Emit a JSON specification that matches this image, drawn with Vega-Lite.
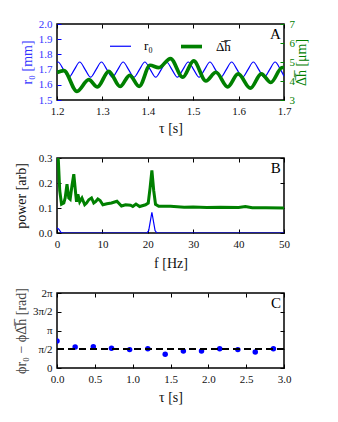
{
  "$schema": "https://vega.github.io/schema/vega-lite/v6.json",
  "padding": {"left": 13, "top": 17, "right": 5, "bottom": 5},
  "spacing": 15,
  "config": {
    "font": "Liberation Serif",
    "view": {"stroke": "black", "strokeWidth": 1.5},
    "axis": {"domain": false, "grid": false, "tickSize": -4, "tickColor": "black", "labelFontSize": 11, "labelColor": "#111", "titleFontSize": 14, "titleFontWeight": "normal", "titleColor": "#111", "labelPadding": 9, "labelFlush": false, "labelOverlap": false}
  },
  "datasets": {
    "aR": [
      {"t": 1.2, "v": 1.748, "s": "r₀"}, {"t": 1.2023, "v": 1.75, "s": "r₀"}, {"t": 1.2143, "v": 1.70, "s": "r₀"}, {"t": 1.2262, "v": 1.65, "s": "r₀"},
      {"t": 1.2382, "v": 1.70, "s": "r₀"}, {"t": 1.2501, "v": 1.75, "s": "r₀"}, {"t": 1.2621, "v": 1.70, "s": "r₀"}, {"t": 1.2740, "v": 1.65, "s": "r₀"},
      {"t": 1.2860, "v": 1.70, "s": "r₀"}, {"t": 1.2979, "v": 1.75, "s": "r₀"}, {"t": 1.3099, "v": 1.70, "s": "r₀"}, {"t": 1.3218, "v": 1.65, "s": "r₀"},
      {"t": 1.3338, "v": 1.70, "s": "r₀"}, {"t": 1.3457, "v": 1.75, "s": "r₀"}, {"t": 1.3577, "v": 1.70, "s": "r₀"}, {"t": 1.3696, "v": 1.65, "s": "r₀"},
      {"t": 1.3816, "v": 1.70, "s": "r₀"}, {"t": 1.3935, "v": 1.75, "s": "r₀"}, {"t": 1.4055, "v": 1.70, "s": "r₀"}, {"t": 1.4174, "v": 1.65, "s": "r₀"},
      {"t": 1.4294, "v": 1.70, "s": "r₀"}, {"t": 1.4413, "v": 1.75, "s": "r₀"}, {"t": 1.4533, "v": 1.70, "s": "r₀"}, {"t": 1.4652, "v": 1.65, "s": "r₀"},
      {"t": 1.4772, "v": 1.70, "s": "r₀"}, {"t": 1.4891, "v": 1.75, "s": "r₀"}, {"t": 1.5011, "v": 1.70, "s": "r₀"}, {"t": 1.5130, "v": 1.65, "s": "r₀"},
      {"t": 1.5250, "v": 1.70, "s": "r₀"}, {"t": 1.5369, "v": 1.75, "s": "r₀"}, {"t": 1.5489, "v": 1.70, "s": "r₀"}, {"t": 1.5608, "v": 1.65, "s": "r₀"},
      {"t": 1.5728, "v": 1.70, "s": "r₀"}, {"t": 1.5847, "v": 1.75, "s": "r₀"}, {"t": 1.5967, "v": 1.70, "s": "r₀"}, {"t": 1.6086, "v": 1.65, "s": "r₀"},
      {"t": 1.6206, "v": 1.70, "s": "r₀"}, {"t": 1.6325, "v": 1.75, "s": "r₀"}, {"t": 1.6445, "v": 1.70, "s": "r₀"}, {"t": 1.6564, "v": 1.65, "s": "r₀"},
      {"t": 1.6684, "v": 1.70, "s": "r₀"}, {"t": 1.6803, "v": 1.75, "s": "r₀"}, {"t": 1.6923, "v": 1.70, "s": "r₀"}, {"t": 1.7, "v": 1.657, "s": "r₀"}
    ],
    "aH": [
      {"t": 1.2, "v": 4.44, "s": "Δ̅h̅"}, {"t": 1.215, "v": 4.55, "s": "Δ̅h̅"}, {"t": 1.244, "v": 3.45, "s": "Δ̅h̅"}, {"t": 1.27, "v": 4.07, "s": "Δ̅h̅"},
      {"t": 1.289, "v": 3.69, "s": "Δ̅h̅"}, {"t": 1.314, "v": 4.51, "s": "Δ̅h̅"}, {"t": 1.339, "v": 3.71, "s": "Δ̅h̅"}, {"t": 1.36, "v": 4.3, "s": "Δ̅h̅"},
      {"t": 1.381, "v": 3.72, "s": "Δ̅h̅"}, {"t": 1.405, "v": 4.83, "s": "Δ̅h̅"}, {"t": 1.424, "v": 4.7, "s": "Δ̅h̅"}, {"t": 1.45, "v": 5.18, "s": "Δ̅h̅"},
      {"t": 1.477, "v": 4.2, "s": "Δ̅h̅"}, {"t": 1.501, "v": 5.06, "s": "Δ̅h̅"}, {"t": 1.528, "v": 4.0, "s": "Δ̅h̅"}, {"t": 1.55, "v": 4.46, "s": "Δ̅h̅"},
      {"t": 1.576, "v": 3.69, "s": "Δ̅h̅"}, {"t": 1.599, "v": 4.37, "s": "Δ̅h̅"}, {"t": 1.626, "v": 3.62, "s": "Δ̅h̅"}, {"t": 1.65, "v": 4.38, "s": "Δ̅h̅"},
      {"t": 1.671, "v": 3.92, "s": "Δ̅h̅"}, {"t": 1.696, "v": 4.71, "s": "Δ̅h̅"}, {"t": 1.7, "v": 4.68, "s": "Δ̅h̅"}
    ],
    "bG": [
      {"f": 0, "p": 0.34}, {"f": 0.3, "p": 0.29}, {"f": 0.6, "p": 0.17}, {"f": 1.0, "p": 0.115}, {"f": 1.5, "p": 0.12}, {"f": 1.8, "p": 0.14},
      {"f": 2.2, "p": 0.195}, {"f": 2.6, "p": 0.14}, {"f": 2.9, "p": 0.135}, {"f": 3.3, "p": 0.19}, {"f": 3.7, "p": 0.235}, {"f": 4.1, "p": 0.16},
      {"f": 4.3, "p": 0.125}, {"f": 4.6, "p": 0.155}, {"f": 5.0, "p": 0.125}, {"f": 5.5, "p": 0.14}, {"f": 6.1, "p": 0.113}, {"f": 6.5, "p": 0.12},
      {"f": 7.0, "p": 0.133}, {"f": 7.6, "p": 0.14}, {"f": 8.1, "p": 0.12}, {"f": 8.5, "p": 0.125}, {"f": 9.0, "p": 0.136}, {"f": 9.5, "p": 0.13},
      {"f": 10.1, "p": 0.113}, {"f": 11.0, "p": 0.117}, {"f": 12.0, "p": 0.12}, {"f": 13.2, "p": 0.127}, {"f": 14.2, "p": 0.108}, {"f": 15.1, "p": 0.113},
      {"f": 16.2, "p": 0.111}, {"f": 16.7, "p": 0.106}, {"f": 17.4, "p": 0.116}, {"f": 18.2, "p": 0.106}, {"f": 19.5, "p": 0.113}, {"f": 20.1, "p": 0.12},
      {"f": 20.5, "p": 0.18}, {"f": 20.9, "p": 0.25}, {"f": 21.3, "p": 0.17}, {"f": 21.7, "p": 0.115}, {"f": 22.4, "p": 0.107}, {"f": 25, "p": 0.107},
      {"f": 28, "p": 0.103}, {"f": 30, "p": 0.104}, {"f": 33, "p": 0.102}, {"f": 36, "p": 0.103}, {"f": 40, "p": 0.102}, {"f": 41.5, "p": 0.106},
      {"f": 43, "p": 0.101}, {"f": 46, "p": 0.101}, {"f": 50, "p": 0.1}
    ],
    "bB": [
      {"f": 0, "p": 0.02}, {"f": 0.4, "p": 0.015}, {"f": 0.9, "p": 0.002}, {"f": 1.5, "p": 0.0}, {"f": 19.8, "p": 0.0}, {"f": 20.2, "p": 0.01},
      {"f": 20.9, "p": 0.083}, {"f": 21.6, "p": 0.01}, {"f": 22, "p": 0.0}, {"f": 50, "p": 0.0}
    ],
    "c": [
      {"t": 0.0, "d": 2.26}, {"t": 0.24, "d": 1.76}, {"t": 0.48, "d": 1.79}, {"t": 0.72, "d": 1.65}, {"t": 0.96, "d": 1.54},
      {"t": 1.2, "d": 1.62}, {"t": 1.43, "d": 1.15}, {"t": 1.67, "d": 1.42}, {"t": 1.91, "d": 1.42}, {"t": 2.15, "d": 1.62},
      {"t": 2.39, "d": 1.54}, {"t": 2.62, "d": 1.34}, {"t": 2.86, "d": 1.62}
    ],
    "labA": [{"t": 1.693, "v": 1.9, "txt": "A"}],
    "labB": [{"f": 49.3, "p": 0.24, "txt": "B"}],
    "labC": [{"t": 2.96, "d": 5.03, "txt": "C"}]
  },
  "vconcat": [
    {
      "width": 227, "height": 76,
      "resolve": {"scale": {"y": "independent"}, "axis": {"x": "independent"}},
      "layer": [
        {
          "layer": [
            {
              "data": {"name": "aR"},
              "mark": {"type": "line", "interpolate": "monotone", "clip": true},
              "encoding": {
                "x": {"field": "t", "type": "quantitative", "scale": {"domain": [1.2, 1.7], "nice": false}, "axis": {"values": [1.2, 1.3, 1.4, 1.5, 1.6, 1.7], "format": ".1f", "title": "τ [s]", "titlePadding": 5}},
                "y": {"field": "v", "type": "quantitative", "scale": {"domain": [1.5, 2.0], "nice": false, "zero": false}, "axis": {"values": [1.5, 1.6, 1.7, 1.8, 1.9, 2.0], "format": ".1f", "title": "r₀ [mm]", "labelColor": "#3333ff", "titleColor": "#3333ff", "tickColor": "#0000ff"}},
                "color": {"field": "s", "type": "nominal", "scale": {"domain": ["r₀", "Δ̅h̅"], "range": ["#0000ff", "#008000"]}, "legend": {"orient": "none", "legendX": 52, "legendY": 10, "direction": "horizontal", "title": null, "symbolType": "stroke", "symbolSize": 441, "labelFontSize": 13, "labelOffset": 12, "columnPadding": 20, "padding": 0}},
                "strokeWidth": {"field": "s", "type": "nominal", "scale": {"domain": ["r₀", "Δ̅h̅"], "range": [1.2, 3.7]}, "legend": {"orient": "none", "legendX": 52, "legendY": 10, "direction": "horizontal", "title": null, "symbolType": "stroke", "symbolSize": 441, "labelFontSize": 13, "labelOffset": 12, "columnPadding": 20, "padding": 0}}
              }
            },
            {
              "data": {"name": "labA"},
              "mark": {"type": "text", "align": "right", "baseline": "alphabetic", "fontSize": 15, "color": "black"},
              "encoding": {
                "x": {"field": "t", "type": "quantitative", "scale": {"domain": [1.2, 1.7], "nice": false}, "axis": {"values": [1.2, 1.3, 1.4, 1.5, 1.6, 1.7], "format": ".1f", "title": "τ [s]", "titlePadding": 5}},
                "y": {"field": "v", "type": "quantitative", "scale": {"domain": [1.5, 2.0], "nice": false, "zero": false}, "axis": {"values": [1.5, 1.6, 1.7, 1.8, 1.9, 2.0], "format": ".1f", "title": "r₀ [mm]", "labelColor": "#3333ff", "titleColor": "#3333ff", "tickColor": "#0000ff"}},
                "text": {"field": "txt"}
              }
            }
          ]
        },
        {
          "data": {"name": "aH"},
          "mark": {"type": "line", "interpolate": "monotone", "clip": true},
          "encoding": {
            "x": {"field": "t", "type": "quantitative", "scale": {"domain": [1.2, 1.7], "nice": false}, "axis": {"orient": "top", "values": [1.2, 1.3, 1.4, 1.5, 1.6, 1.7], "labels": false, "title": null}},
            "y": {"field": "v", "type": "quantitative", "scale": {"domain": [3, 7], "nice": false, "zero": false}, "axis": {"orient": "right", "values": [3, 4, 5, 6, 7], "title": "Δ̅h̅ [μm]", "titleAngle": 270, "titlePadding": 14, "labelColor": "#008000", "titleColor": "#008000", "tickColor": "#008000"}},
            "color": {"field": "s", "type": "nominal"},
            "strokeWidth": {"field": "s", "type": "nominal"}
          }
        }
      ]
    },
    {
      "width": 227, "height": 75,
      "resolve": {"axis": {"x": "independent", "y": "independent"}},
      "layer": [
        {
          "data": {"name": "bG"},
          "mark": {"type": "line", "color": "#008000", "strokeWidth": 3, "clip": true},
          "encoding": {
            "x": {"field": "f", "type": "quantitative", "scale": {"domain": [0, 50], "nice": false}, "axis": {"values": [0, 10, 20, 30, 40, 50], "title": "f [Hz]", "titlePadding": 7}},
            "y": {"field": "p", "type": "quantitative", "scale": {"domain": [0, 0.3], "nice": false}, "axis": {"values": [0, 0.1, 0.2, 0.3], "format": ".1f", "title": "power [arb]", "titlePadding": 10}}
          }
        },
        {
          "data": {"name": "bB"},
          "mark": {"type": "line", "color": "#0000ff", "strokeWidth": 1.2, "clip": true},
          "encoding": {
            "x": {"field": "f", "type": "quantitative", "axis": {"orient": "top", "values": [0, 10, 20, 30, 40, 50], "labels": false, "title": null}},
            "y": {"field": "p", "type": "quantitative", "axis": {"orient": "right", "values": [0, 0.1, 0.2, 0.3], "labels": false, "title": null}}
          }
        },
        {
          "data": {"name": "labB"},
          "mark": {"type": "text", "align": "right", "baseline": "alphabetic", "fontSize": 15, "color": "black"},
          "encoding": {
            "x": {"field": "f", "type": "quantitative", "axis": null},
            "y": {"field": "p", "type": "quantitative", "axis": null},
            "text": {"field": "txt"}
          }
        }
      ]
    },
    {
      "width": 227, "height": 75,
      "resolve": {"axis": {"x": "independent", "y": "independent"}},
      "layer": [
        {
          "data": {"name": "c"},
          "mark": {"type": "point", "filled": true, "color": "#0000ff", "size": 30, "opacity": 1, "clip": true},
          "encoding": {
            "x": {"field": "t", "type": "quantitative", "scale": {"domain": [0, 3], "nice": false}, "axis": {"values": [0, 0.5, 1, 1.5, 2, 2.5, 3], "format": ".1f", "title": "τ [s]", "titlePadding": 6}},
            "y": {"field": "d", "type": "quantitative", "scale": {"domain": [0, 6.2832], "nice": false}, "axis": {"values": [0, 1.5708, 3.1416, 4.7124, 6.2832], "labelExpr": "datum.value < 0.5 ? '0' : datum.value < 2 ? 'π/2' : datum.value < 4 ? 'π' : datum.value < 5 ? '3π/2' : '2π'", "title": "ϕr₀ − ϕΔ̅h̅ [rad]", "titleColor": "#444"}}
          }
        },
        {
          "data": {"name": "c"},
          "mark": {"type": "rule", "color": "black", "strokeWidth": 1.3, "strokeDash": [7, 4]},
          "encoding": {
            "y": {"datum": 1.5708, "type": "quantitative", "axis": null}
          }
        },
        {
          "data": {"name": "labC"},
          "mark": {"type": "text", "align": "right", "baseline": "alphabetic", "fontSize": 15, "color": "black"},
          "encoding": {
            "x": {"field": "t", "type": "quantitative", "axis": {"orient": "top", "values": [0, 0.5, 1, 1.5, 2, 2.5, 3], "labels": false, "title": null}},
            "y": {"field": "d", "type": "quantitative", "axis": {"orient": "right", "values": [0, 1.5708, 3.1416, 4.7124, 6.2832], "labels": false, "title": null}},
            "text": {"field": "txt"}
          }
        }
      ]
    }
  ]
}
